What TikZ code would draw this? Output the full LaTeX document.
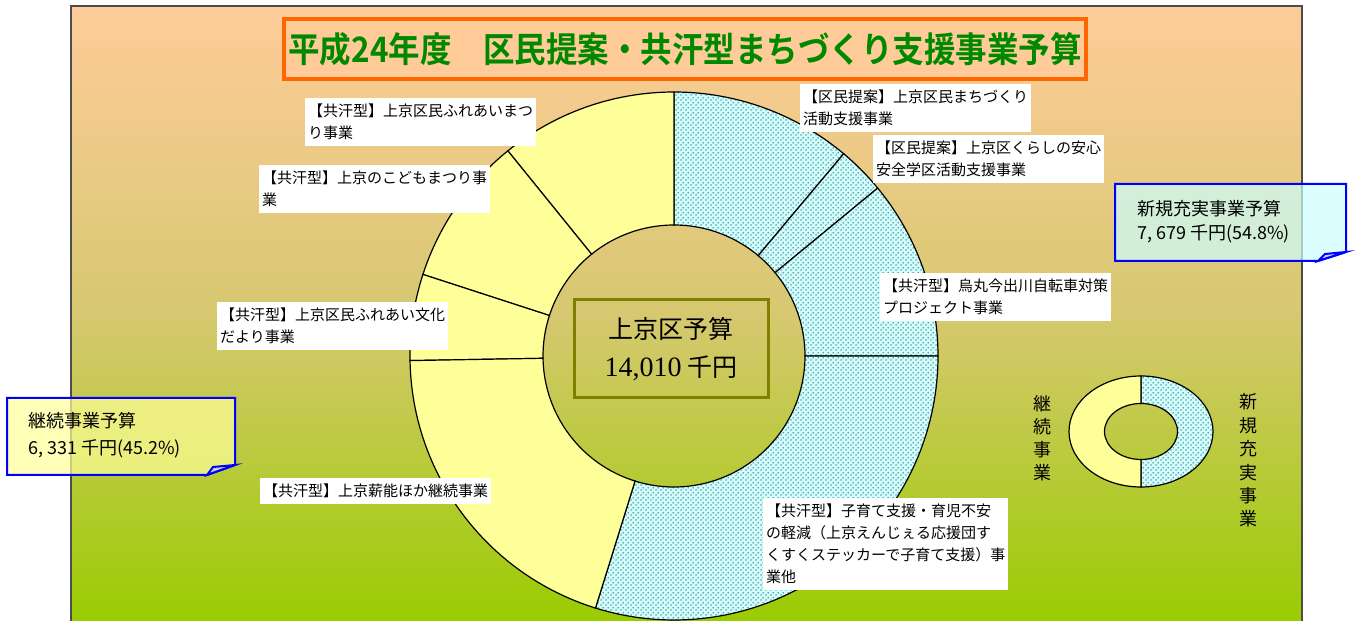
\documentclass[tikz, border = 0pt]{standalone}
\usepackage{fontspec}
\setmainfont{Noto Sans CJK JP}
\newfontfamily\titlefont[FakeStretch = 0.9, UprightFont = * Bold]{Noto Sans CJK JP}
\newfontfamily\numfont{Liberation Serif}
\usetikzlibrary{patterns.meta}

\definecolor{panelpeach}{RGB}{255,204,153}
\definecolor{panelkhaki}{RGB}{214,200,112}
\definecolor{panelleaf}{RGB}{153,204,0}
\definecolor{titleorange}{RGB}{255,102,0}
\definecolor{titlegreen}{RGB}{0,136,0}
\definecolor{newcyan}{RGB}{204,255,255}
\definecolor{oldyellow}{RGB}{255,255,153}
\definecolor{boxolive}{RGB}{128,128,0}
\definecolor{capblue}{RGB}{0,0,255}

\tikzdeclarepattern{
	name = dotgrid,
	type = uncolored,
	bounding box = {(0pt, 0pt) and (5pt, 5pt)},
	tile size = {(5pt, 5pt)},
	code = {
		\fill (1.25pt, 1.25pt) circle (0.8pt);
		\fill (3.75pt, 3.75pt) circle (0.8pt);
	}
}

\begin{document}
\begin{tikzpicture}[x = 1pt, y = 1pt,
	newseg/.style = {draw = black, line width = 1.2pt, preaction = {fill = newcyan}, pattern = dotgrid, pattern color = black!80},
	oldseg/.style = {draw = black, line width = 1.2pt, fill = oldyellow},
	lbl/.style = {fill = white, inner xsep = 3pt, inner ysep = 6pt, align = left, anchor = north west, font = \fontsize{15}{22}\selectfont},
	capline/.style = {draw = capblue, line width = 2pt, fill opacity = 0.7},
	captext/.style = {anchor = west, align = left, inner sep = 0pt}]

	% Definitions
	
	\def\cx{674}	% Donut centre, x
	\def\cy{265}	% Donut centre, y
	\def\Ro{264}	% Outer radius
	\def\Ri{131}	% Inner radius

	\useasboundingbox (0, 0) rectangle (1355, 621);
	\clip (0, 0) rectangle (1355, 621);

	% Background panel
	
	\draw [draw = black!70, line width = 1.5pt, top color = panelpeach, bottom color = panelleaf, middle color = panelkhaki] (71, 615) rectangle (1302, -4);

	% Title
	
	\node [draw = titleorange, line width = 4pt, fill = panelpeach, minimum width = 802pt, minimum height = 60pt, text = titlegreen, font = \titlefont\fontsize{35}{40}\selectfont] (title) at (685, 572) {平成24年度　区民提案・共汗型まちづくり支援事業予算};

	% Donut segments
	
	\begin{scope}[shift = {(\cx, \cy)}]
		\foreach \a/\b in {90/50, 50/39.5, 39.5/0, 0/-107.3}
			\draw [newseg] (\a:\Ro) arc [start angle = \a, end angle = \b, radius = \Ro] -- (\b:\Ri) arc [start angle = \b, end angle = \a, radius = \Ri] -- cycle;
		\foreach \a/\b in {90/129, 129/162, 162/181, 181/252.7}
			\draw [oldseg] (\a:\Ro) arc [start angle = \a, end angle = \b, radius = \Ro] -- (\b:\Ri) arc [start angle = \b, end angle = \a, radius = \Ri] -- cycle;
	\end{scope}

	% Centre box
	
	\node [draw = boxolive, line width = 3pt, minimum width = 194pt, minimum height = 98pt, align = center, font = \fontsize{25}{38}\selectfont] (total) at (671, 272) {上京区予算\\{\numfont\fontsize{28}{38}\selectfont 14,010} 千円};

	% Segment labels
	
	\node [lbl] (fureai) at (305, 523) {【共汗型】上京区民ふれあいまつ\\り事業};
	\node [lbl] (kodomo) at (259, 456) {【共汗型】上京のこどもまつり事\\業};
	\node [lbl] (dayori) at (217, 319) {【共汗型】上京区民ふれあい文化\\だより事業};
	\node [lbl] (takigi) at (260, 143) {【共汗型】上京薪能ほか継続事業};
	\node [lbl] (machi) at (800, 537) {【区民提案】上京区民まちづくり\\活動支援事業};
	\node [lbl] (anzen) at (873, 486) {【区民提案】上京区くらしの安心\\安全学区活動支援事業};
	\node [lbl] (jitensha) at (880, 348) {【共汗型】烏丸今出川自転車対策\\プロジェクト事業};
	\node [lbl] (kosodate) at (763, 123) {【共汗型】子育て支援・育児不安\\の軽減（上京えんじぇる応援団す\\くすくステッカーで子育て支援）事\\業他};

	% New projects callout
	
	\coordinate (newnw) at (1115, 437);
	\coordinate (newse) at (1346, 360);
	\filldraw [capline, fill = newcyan] (newnw) -- (newnw -| newse) -- ([yshift = 9] newse) -- ([xshift = -28] newse) -- (newnw |- newse) -- cycle;
	\filldraw [capline, fill = capblue!25] ([xshift = -28] newse) -- ([xshift = -21, yshift = 7] newse) -- ([yshift = 9] newse) -- cycle;
	\node [captext, font = \fontsize{18}{24}\selectfont] (newcap) at (1137, 399) {新規充実事業予算\\7, 679 千円(54.8\%)};

	% Continuing projects callout
	
	\coordinate (oldnw) at (7, 223);
	\coordinate (oldse) at (235, 146);
	\filldraw [capline, fill = oldyellow] (oldnw) -- (oldnw -| oldse) -- ([yshift = 10] oldse) -- ([xshift = -28] oldse) -- (oldnw |- oldse) -- cycle;
	\filldraw [capline, fill = capblue!25] ([xshift = -28] oldse) -- ([xshift = -22, yshift = 8] oldse) -- ([yshift = 10] oldse) -- cycle;
	\node [captext, font = \fontsize{18}{27}\selectfont] (oldcap) at (28, 185.5) {継続事業予算\\6, 331 千円(45.2\%)};

	% Legend donut
	
	\begin{scope}[shift = {(1141, 189.5)}]
		\draw [newseg] (0, 55.5) arc [start angle = 90, end angle = -90, x radius = 72, y radius = 55.5] -- (0, -28) arc [start angle = -90, end angle = 90, x radius = 36.5, y radius = 28] -- cycle;
		\draw [oldseg] (0, 55.5) arc [start angle = 90, end angle = 270, x radius = 72, y radius = 55.5] -- (0, -28) arc [start angle = 270, end angle = 90, x radius = 36.5, y radius = 28] -- cycle;
	\end{scope}

	\node [align = center, font = \fontsize{18}{23}\selectfont] (oldkey) at (1042, 183) {継\\続\\事\\業};
	\node [align = center, font = \fontsize{18}{23.4}\selectfont] (newkey) at (1248, 160.5) {新\\規\\充\\実\\事\\業};

\end{tikzpicture}
\end{document}
